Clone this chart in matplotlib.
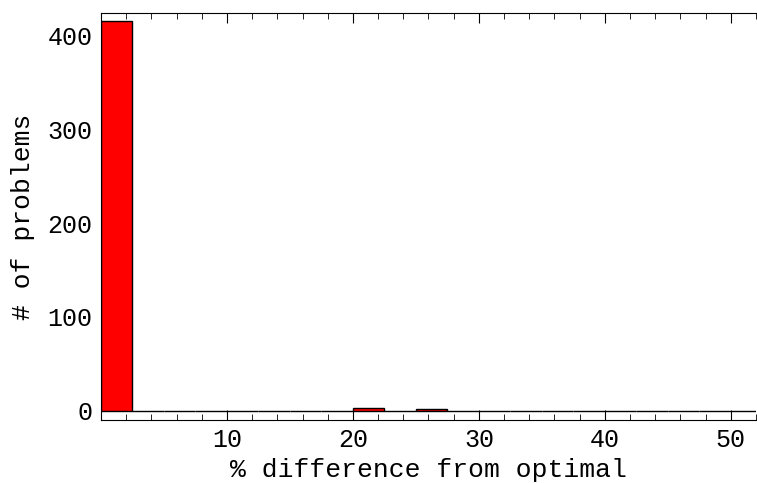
import numpy as np
import matplotlib.pyplot as plt
from matplotlib.ticker import MultipleLocator

# histogram of % difference from optimal, bins of width 2.5
bin_edges = np.arange(0, 52.5 + 0.01, 2.5)
counts = [415, 0, 0, 0, 0, 0, 0, 0, 3, 0, 2,
          0, 0, 0, 0, 0, 0, 0, 0, 0, 0]
x_ticks = [10, 20, 30, 40, 50]
y_ticks = [0, 100, 200, 300, 400]

plt.rcParams['font.family'] = ['Liberation Mono', 'DejaVu Sans']

fig = plt.figure(figsize=(7.57, 4.83), dpi=100)
ax = fig.add_axes([0.1334, 0.1305, 0.8653, 0.8426])

ax.bar(bin_edges[:-1], counts, width=np.diff(bin_edges), align='edge',
       color='#ff0000', edgecolor='black', linewidth=1.0)

ax.set_xlim(0, 52)
ax.set_ylim(-10, 424)
ax.set_xticks(x_ticks)
ax.set_yticks(y_ticks)
ax.xaxis.set_minor_locator(MultipleLocator(2))

ax.spines['right'].set_visible(False)
for s in ['left', 'top', 'bottom']:
    ax.spines[s].set_linewidth(0.8)

ax.tick_params(axis='x', which='major', direction='in', length=7, width=0.8,
               top=True, labelsize=18, pad=6)
ax.tick_params(axis='x', which='minor', direction='in', length=4, width=0.6,
               top=True)
ax.tick_params(axis='y', which='major', direction='in', length=0,
               labelsize=18, pad=6)

ax.set_xlabel('% difference from optimal', fontsize=19, labelpad=4)
ax.set_ylabel('# of problems', fontsize=19, labelpad=9)

fig.savefig('out.png', dpi=100)
